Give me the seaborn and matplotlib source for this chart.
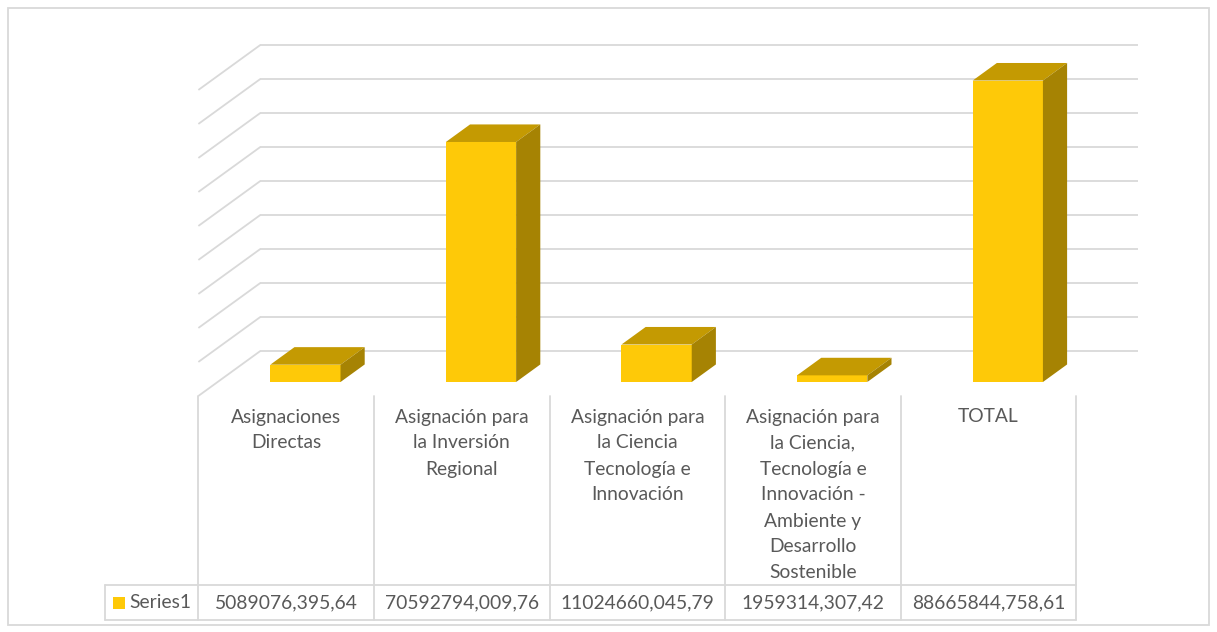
import numpy as np
import matplotlib
matplotlib.use("Agg")
import matplotlib.pyplot as plt
from matplotlib.patches import Polygon, Rectangle
import seaborn as sns

# data
categories = ["Asignaciones\nDirectas",
              "Asignación para\nla Inversión\nRegional",
              "Asignación para\nla Ciencia\nTecnología e\nInnovación",
              "Asignación para\nla Ciencia,\nTecnología e\nInnovación -\nAmbiente y\nDesarrollo\nSostenible",
              "TOTAL"]
values = [5089076395.64, 70592794009.76, 11024660045.79, 1959314307.42, 88665844758.61]
series_name = "Series1"
grid_values = [0, 10e9, 20e9, 30e9, 40e9, 50e9, 60e9, 70e9, 80e9, 90e9]

front_col = "#FEC908"
top_col = "#C49A02"
side_col = "#A68303"
grid_col = "#D9D9D9"
text_col = "#595959"


def fmt(v):
    s = f"{v:.2f}"
    ip, dp = s.split(".")
    return f"{ip[:-3]},{ip[-3:]},{dp}"


sns.set_style("white")
plt.rcParams['font.family'] = ['Lato', 'DejaVu Sans']

W, H = 1217, 632
fig = plt.figure(figsize=(W / 100, H / 100), dpi=100)
ax = fig.add_axes([0, 0, 1, 1])

# pixel geometry of the 3d frame (bar front plane is the data plane)
cat_px = 175.6       # px per category
x0_px = 305.4        # px of category 0 centre on bar plane
base_py = 382.0      # px (from top) of value 0 on bar plane
px_per_b = 3.40      # px per 1e9
DX = 62 / cat_px     # depth vector (categories)
DV = 45 / px_per_b   # depth vector (billions)
fb = 0.31            # depth of bar front
bd = 0.39            # bar depth


def set_frame():
    ax.set_xlim(-x0_px / cat_px, (W - x0_px) / cat_px)
    ax.set_ylim((base_py - H) / px_per_b, base_py / px_per_b)
    ax.set_axis_off()


def proj(x, v, f):
    return x + (f - fb) * DX, v + (f - fb) * DV


def py2v(py):
    return (base_py - py) / px_per_b


set_frame()
vals_b = np.array(values) / 1e9
n = len(categories)

# back wall grid and left wall diagonals
for g in grid_values:
    gb = g / 1e9
    xa, ya = proj(-0.5, gb, 1)
    xb, yb = proj(n - 0.5, gb, 1)
    ax.plot([xa, xb], [ya, yb], color=grid_col, lw=1.3, zorder=1, solid_capstyle="butt")
    xc, yc = proj(-0.5, gb, 0)
    ax.plot([xc, xa], [yc, ya], color=grid_col, lw=1.3, zorder=1, solid_capstyle="butt")

# front faces through seaborn
sns.barplot(x=list(range(n)), y=vals_b, color=front_col, saturation=1,
            width=0.4, linewidth=0, ax=ax, zorder=3, native_scale=True)
set_frame()

for p in list(ax.patches):
    x1 = p.get_x()
    x2 = x1 + p.get_width()
    h = p.get_height()
    ddx, ddv = bd * DX, bd * DV
    ax.add_patch(Polygon([(x1, h), (x2, h), (x2 + ddx, h + ddv), (x1 + ddx, h + ddv)],
                         closed=True, facecolor=top_col, edgecolor="none", zorder=3))
    ax.add_patch(Polygon([(x2, 0), (x2, h), (x2 + ddx, h + ddv), (x2 + ddx, ddv)],
                         closed=True, facecolor=side_col, edgecolor="none", zorder=3))

# data table
lw = 1.3
top_v, row_top, row_bot = py2v(396), py2v(585), py2v(620)
for k in range(n + 1):
    xk, _ = proj(k - 0.5, 0, 0)
    ax.plot([xk, xk], [top_v, row_bot], color=grid_col, lw=lw, zorder=1)
left_x = (105 - x0_px) / cat_px
right_x, _ = proj(n - 0.5, 0, 0)
for yy in (row_top, row_bot):
    ax.plot([left_x, right_x], [yy, yy], color=grid_col, lw=lw, zorder=1)
ax.plot([left_x, left_x], [row_top, row_bot], color=grid_col, lw=lw, zorder=1)

fs = 13.9
for k, (c, v) in enumerate(zip(categories, values)):
    xc, _ = proj(k, 0, 0)
    for j, line in enumerate(c.split("\n")):
        ax.text(xc, py2v(417 + 26 * j), line, ha="center", va="center",
                fontsize=fs, color=text_col)
    ax.text(xc, py2v(603), fmt(v), ha="center", va="center",
            fontsize=fs, color=text_col)

ax.add_patch(Rectangle(((113 - x0_px) / cat_px, py2v(609)), 12 / cat_px, 12 / px_per_b,
                       facecolor=front_col, edgecolor="none", zorder=3))
ax.text((129 - x0_px) / cat_px, py2v(603), series_name, ha="left", va="center",
        fontsize=fs, color=text_col)

# chart border
fig.patches.append(Rectangle((8 / W, 1 - 625 / H), 1201 / W, 617 / H, transform=fig.transFigure,
                             facecolor="none", edgecolor=grid_col, lw=1.3))

fig.savefig("out.png", dpi=100)
